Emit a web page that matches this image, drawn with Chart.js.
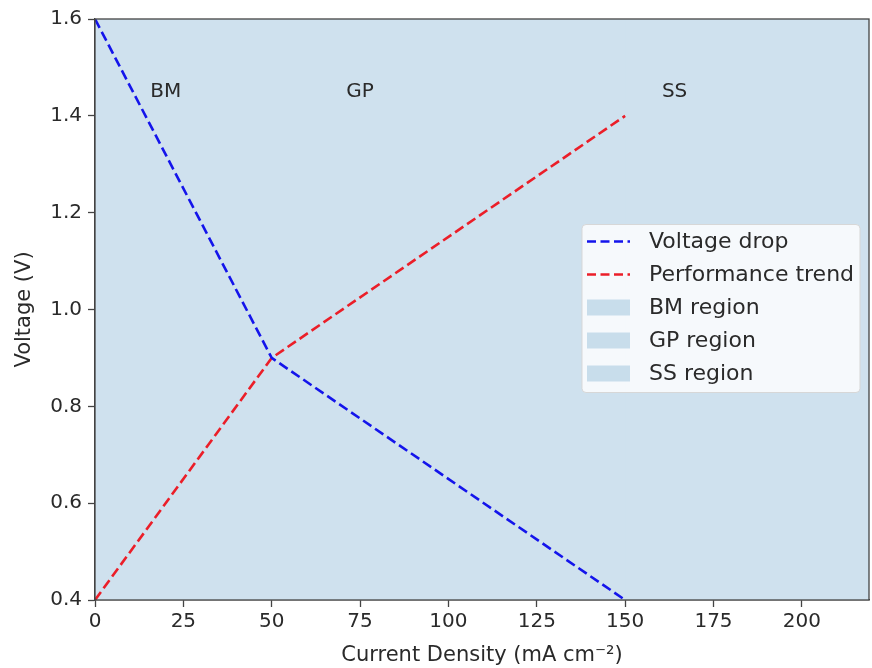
<!DOCTYPE html>
<html lang="en">
<head>
  <meta charset="UTF-8">
  <title>Voltage vs Current Density</title>
  <script src="https://cdn.jsdelivr.net/npm/chart.js"></script>
  <style>
    body {
      margin: 0;
      padding: 0;
      background: #fff;
    }
    .wrap {
      width: 872px;
      height: 668px;
    }
  </style>
</head>
<body>
  <div class="wrap">
    <canvas id="chart" width="872" height="668"></canvas>
  </div>

  <script>
    // data
    const currentDensity = [0, 50, 150];
    const voltageDrop = [1.6, 0.9, 0.4];
    const performanceTrend = [0.4, 0.9, 1.4];

    const regionNames = ['BM', 'GP', 'SS'];
    const regionStarts = [0, 50, 150];
    const regionEnds = [50, 150, 219];
    const regionLabelX = [20, 75, 164];
    const regionLabelY = 1.45;

    const xTicks = [0, 25, 50, 75, 100, 125, 150, 175, 200];
    const yTicks = [0.4, 0.6, 0.8, 1.0, 1.2, 1.4, 1.6];

    const FONT = "'DejaVu Sans', sans-serif";
    const regionColor = 'rgb(207, 225, 238)';
    const axisColor = '#444';
    const textColor = '#2a2a2a';

    const toPoints = (xs, ys) => xs.map((x, i) => ({x: x, y: ys[i]}));

    let datasets = [
      {
        label: 'Voltage drop',
        data: toPoints(currentDensity, voltageDrop),
        borderColor: 'rgb(20, 20, 235)',
        borderWidth: 2.6,
        borderDash: [10, 4.5],
        pointRadius: 0,
        fill: false,
        tension: 0
      },
      {
        label: 'Performance trend',
        data: toPoints(currentDensity, performanceTrend),
        borderColor: 'rgb(235, 30, 40)',
        borderWidth: 2.6,
        borderDash: [10, 4.5],
        pointRadius: 0,
        fill: false,
        tension: 0
      }
    ];

    regionNames.forEach((name, i) => {
      datasets.push({
        label: name + ' region',
        data: [{x: regionStarts[i], y: 1.6}, {x: regionEnds[i], y: 1.6}],
        borderWidth: 0,
        borderColor: 'rgba(0,0,0,0)',
        backgroundColor: regionColor,
        pointRadius: 0,
        fill: 'origin'
      });
    });

    // same colour under the spans so the joins between them don't show
    const underlayPlugin = {
      id: 'underlay',
      beforeDatasetsDraw(chart) {
        const a = chart.chartArea;
        const ctx = chart.ctx;
        ctx.save();
        ctx.fillStyle = regionColor;
        ctx.fillRect(a.left, a.top, a.right - a.left, a.bottom - a.top);
        ctx.restore();
      }
    };

    // frame round the plot area (matplotlib spines)
    const framePlugin = {
      id: 'frame',
      afterDatasetsDraw(chart) {
        const a = chart.chartArea;
        const ctx = chart.ctx;
        ctx.save();
        ctx.strokeStyle = axisColor;
        ctx.lineWidth = 1.3;
        ctx.strokeRect(a.left, a.top, a.right - a.left, a.bottom - a.top);
        ctx.restore();
      }
    };

    const regionTextPlugin = {
      id: 'regionText',
      afterDatasetsDraw(chart) {
        const ctx = chart.ctx;
        const xs = chart.scales.x;
        const ys = chart.scales.y;
        ctx.save();
        ctx.font = '20px ' + FONT;
        ctx.fillStyle = textColor;
        ctx.textAlign = 'center';
        ctx.textBaseline = 'middle';
        regionNames.forEach((name, i) => {
          ctx.fillText(name, xs.getPixelForValue(regionLabelX[i]), ys.getPixelForValue(regionLabelY));
        });
        ctx.restore();
      }
    };

    // legend inside the plot, centre right
    const boxLegendPlugin = {
      id: 'boxLegend',
      afterDraw(chart) {
        const ctx = chart.ctx;
        const a = chart.chartArea;
        const rowH = 33;
        const boxW = 278, boxH = 168;
        const left = a.right - 9 - boxW;
        const top = (a.top + a.bottom) / 2 - boxH / 2 - 1;
        ctx.save();
        ctx.fillStyle = 'rgba(255,255,255,0.8)';
        ctx.strokeStyle = 'rgb(215,215,215)';
        ctx.lineWidth = 1;
        ctx.beginPath();
        ctx.roundRect(left, top, boxW, boxH, 4);
        ctx.fill();
        ctx.stroke();

        ctx.font = '22px ' + FONT;
        ctx.textBaseline = 'middle';
        chart.data.datasets.forEach((ds, i) => {
          const cy = top + 17 + i * rowH;
          const hx = left + 5;
          if (ds.fill === false) {
            ctx.strokeStyle = ds.borderColor;
            ctx.lineWidth = ds.borderWidth;
            ctx.setLineDash([9, 4.5]);
            ctx.beginPath();
            ctx.moveTo(hx, cy);
            ctx.lineTo(hx + 43, cy);
            ctx.stroke();
            ctx.setLineDash([]);
          } else {
            ctx.fillStyle = 'rgb(200, 221, 235)';
            ctx.fillRect(hx, cy - 8, 43, 16);
          }
          ctx.fillStyle = textColor;
          ctx.fillText(ds.label, left + 67, cy + 1);
        });
        ctx.restore();
      }
    };

    let config = {
      type: 'line',
      data: {datasets: datasets},
      options: {
        responsive: false,
        animation: false,
        layout: {
          padding: {top: 19, right: 3, left: 0, bottom: 0}
        },
        plugins: {
          legend: {display: false},
          tooltip: {enabled: false}
        },
        scales: {
          x: {
            type: 'linear',
            min: 0,
            max: 219,
            afterBuildTicks: (scale) => { scale.ticks = xTicks.map(v => ({value: v})); },
            afterFit: (scale) => { scale.height = 68; },
            grid: {
              drawOnChartArea: false,
              drawTicks: true,
              tickLength: 7,
              tickWidth: 1.3,
              color: axisColor
            },
            border: {display: true, color: axisColor, width: 1.3},
            ticks: {
              color: textColor,
              padding: 3,
              font: {family: FONT, size: 20},
              callback: (v) => String(v)
            },
            title: {
              display: true,
              text: 'Current Density (mA cm⁻²)',
              color: textColor,
              font: {family: FONT, size: 21},
              padding: {top: 0, bottom: 0}
            }
          },
          y: {
            type: 'linear',
            min: 0.4,
            max: 1.6,
            afterBuildTicks: (scale) => { scale.ticks = yTicks.map(v => ({value: v})); },
            afterFit: (scale) => { scale.width = 95; },
            grid: {
              drawOnChartArea: false,
              drawTicks: true,
              tickLength: 7,
              tickWidth: 1.3,
              color: axisColor
            },
            border: {display: true, color: axisColor, width: 1.3},
            ticks: {
              color: textColor,
              padding: 6,
              font: {family: FONT, size: 20},
              callback: (v) => Number(v).toFixed(1)
            },
            title: {
              display: true,
              text: 'Voltage (V)',
              color: textColor,
              font: {family: FONT, size: 21},
              padding: {top: 12, bottom: 4}
            }
          }
        }
      },
      plugins: [underlayPlugin, regionTextPlugin, framePlugin, boxLegendPlugin]
    };

    new Chart(document.getElementById('chart').getContext('2d'), config);
  </script>
</body>
</html>
